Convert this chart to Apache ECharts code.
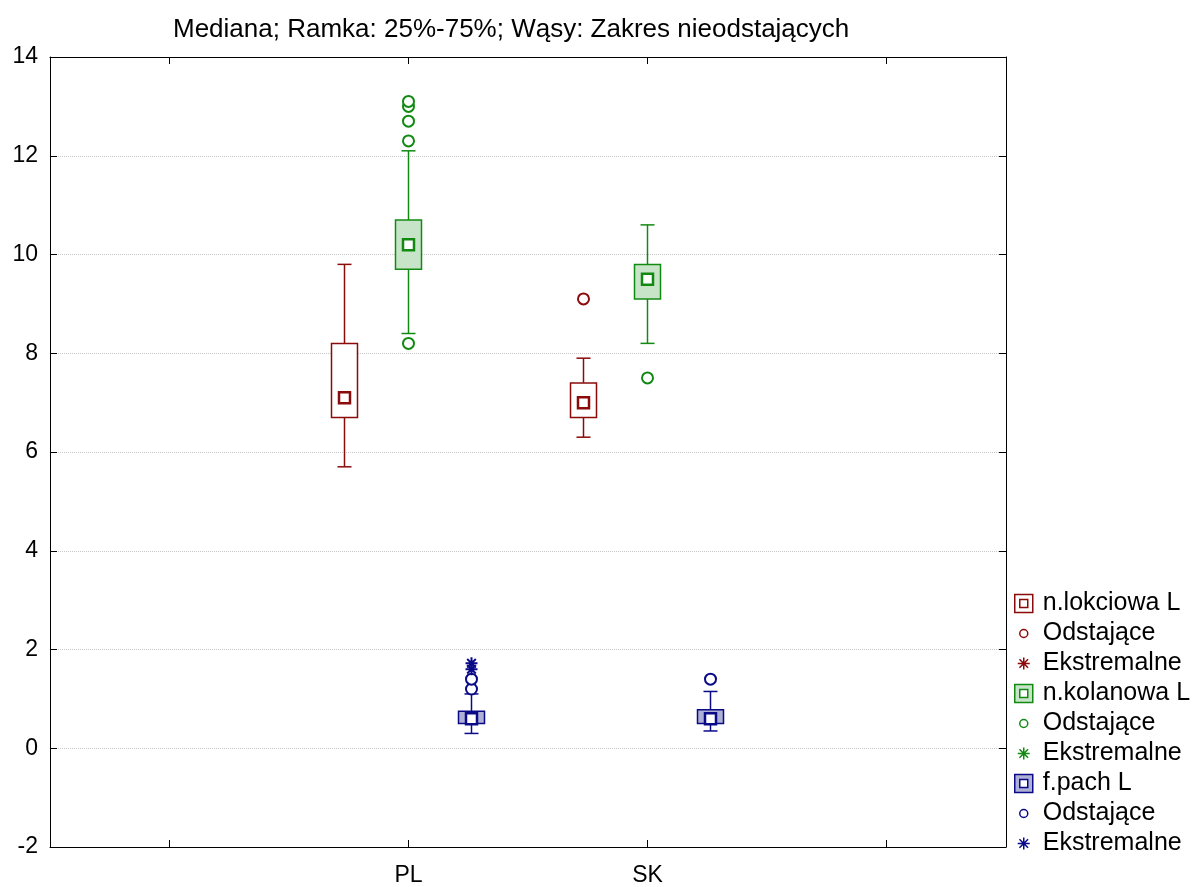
<!DOCTYPE html>
<html>
<head>
<meta charset="utf-8">
<script src="https://cdn.jsdelivr.net/npm/echarts@6/dist/echarts.min.js"></script>
<style>
html, body { margin: 0; background: #fff; }
#chart { width: 1195px; height: 887px; }
</style>
</head>
<body>
<div id="chart"></div>
<script>
// kategorie osi X (puste na brzegach, jak w oryginale)
var categories = ['', 'PL', 'SK', ''];
// [min, q1, mediana, q3, max] dla PL i SK
var lokciowa = [[5.7, 6.7, 7.1, 8.2, 9.8], [6.3, 6.7, 7.0, 7.4, 7.9]];
var kolanowa = [[8.4, 9.7, 10.2, 10.7, 12.1], [8.2, 9.1, 9.5, 9.8, 10.6]];
var pach = [[0.3, 0.5, 0.6, 0.75, 1.1], [0.35, 0.5, 0.6, 0.78, 1.15]];
// odstające / ekstremalne
var lokciowaOut = [[], [9.1]];
var lokciowaExt = [[], []];
var kolanowaOut = [[8.2, 12.3, 12.7, 13.0, 13.1], [7.5]];
var kolanowaExt = [[], []];
var pachOut = [[1.2, 1.4], [1.4]];
var pachExt = [[1.6, 1.72], []];

var RED = '#8b0a0a', GREEN = '#128a12', BLUE = '#0a0a88';
var FONT = '"Liberation Sans", Arial, sans-serif';

var boxIcon = 'path://M-14,-10M14,10M-9,-9L9,-9L9,9L-9,9ZM-4,-4L-4,4L4,4L4,-4Z';
var circleIcon = 'path://M-14,-10M14,10M-4,0A4,4,0,1,1,4,0A4,4,0,1,1,-4,0Z';
var starIcon = 'path://M-14,-10M14,10M0,-6L0,6M-6,0L6,0M-4.3,-4.3L4.3,4.3M-4.3,4.3L4.3,-4.3';
var starSymbol = 'path://M0,-6L0,6M-6,0L6,0M-4.3,-4.3L4.3,4.3M-4.3,4.3L4.3,-4.3';

function boxData(stats) {
    return stats.map(function (s, i) {
        return [i + 1].concat(s);
    });
}

function pointData(list) {
    var out = [];
    list.forEach(function (vals, i) {
        vals.forEach(function (v) { out.push([i + 1, v]); });
    });
    return out;
}

function boxRenderer(color, fill, shift) {
    return function (params, api) {
        var c = api.value(0);
        var x = api.coord([c, 0])[0] + shift;
        var yMin = api.coord([c, api.value(1)])[1];
        var yQ1 = api.coord([c, api.value(2)])[1];
        var yMed = api.coord([c, api.value(3)])[1];
        var yQ3 = api.coord([c, api.value(4)])[1];
        var yMax = api.coord([c, api.value(5)])[1];
        var half = 13, cap = 7, m = 5.5;
        var ln = { stroke: color, lineWidth: 1.5 };
        return {
            type: 'group',
            children: [
                { type: 'line', shape: { x1: x, y1: yMax, x2: x, y2: yQ3 }, style: ln },
                { type: 'line', shape: { x1: x, y1: yQ1, x2: x, y2: yMin }, style: ln },
                { type: 'line', shape: { x1: x - cap, y1: yMax, x2: x + cap, y2: yMax }, style: ln },
                { type: 'line', shape: { x1: x - cap, y1: yMin, x2: x + cap, y2: yMin }, style: ln },
                { type: 'rect', shape: { x: x - half, y: yQ3, width: 2 * half, height: yQ1 - yQ3 },
                  style: { fill: fill, stroke: color, lineWidth: 1.5 } },
                { type: 'rect', shape: { x: x - m, y: yMed - m, width: 2 * m, height: 2 * m },
                  style: { fill: '#fff', stroke: color, lineWidth: 2.5 } }
            ]
        };
    };
}

function boxSeries(name, stats, color, fill, shift) {
    return {
        name: name,
        type: 'custom',
        renderItem: boxRenderer(color, fill, shift),
        encode: { x: 0, y: [1, 2, 3, 4, 5] },
        data: boxData(stats),
        z: 2
    };
}

function outSeries(name, list, color, shift) {
    return {
        name: name,
        type: 'scatter',
        symbol: 'circle',
        symbolSize: 11,
        symbolOffset: [shift, 0],
        itemStyle: { color: '#fff', borderColor: color, borderWidth: 2, opacity: 1 },
        data: pointData(list),
        z: 3
    };
}

function extSeries(name, list, color, shift) {
    return {
        name: name,
        type: 'scatter',
        symbol: starSymbol,
        symbolSize: 12,
        symbolOffset: [shift, 0],
        itemStyle: { color: color, borderColor: color, borderWidth: 2, opacity: 1 },
        data: pointData(list),
        z: 4
    };
}

function legendItem(name, icon, fill, color) {
    return { name: name, icon: icon, itemStyle: { color: fill, borderColor: color, borderWidth: 1.5, opacity: 1 } };
}

var axisLineStyle = { show: true, onZero: false, lineStyle: { color: '#000', width: 1 } };

var chart = echarts.init(document.getElementById('chart'));
chart.setOption({
    animation: false,
    backgroundColor: '#fff',
    title: {
        text: 'Mediana; Ramka: 25%-75%; Wąsy: Zakres nieodstających',
        left: 168,
        top: 12,
        textStyle: { fontFamily: FONT, fontSize: 26, fontWeight: 'normal', color: '#000' }
    },
    legend: {
        orient: 'vertical',
        left: 1009,
        top: 591,
        padding: 0,
        itemWidth: 28,
        itemHeight: 20,
        itemGap: 5,
        selectedMode: false,
        formatter: function (n) { return n.split('#')[0]; },
        textStyle: { fontFamily: FONT, fontSize: 25, color: '#000', lineHeight: 24 },
        data: [
            legendItem('n.lokciowa L', boxIcon, '#fff', RED),
            legendItem('Odstające#1', circleIcon, '#fff', RED),
            legendItem('Ekstremalne#1', starIcon, RED, RED),
            legendItem('n.kolanowa L', boxIcon, '#c8e4c8', GREEN),
            legendItem('Odstające#2', circleIcon, '#fff', GREEN),
            legendItem('Ekstremalne#2', starIcon, GREEN, GREEN),
            legendItem('f.pach L', boxIcon, '#aeb0d6', BLUE),
            legendItem('Odstające#3', circleIcon, '#fff', BLUE),
            legendItem('Ekstremalne#3', starIcon, BLUE, BLUE)
        ]
    },
    grid: { left: 50, right: 189, top: 57, bottom: 39, containLabel: false },
    xAxis: [{
        type: 'category',
        data: categories,
        position: 'bottom',
        axisLine: axisLineStyle,
        axisTick: { show: true, inside: true, length: 7, alignWithLabel: true, interval: 0, lineStyle: { color: '#000' } },
        axisLabel: { interval: 0, fontFamily: FONT, fontSize: 23, color: '#000', margin: 17 },
        splitLine: { show: false }
    }, {
        type: 'category',
        data: categories,
        position: 'top',
        axisLine: axisLineStyle,
        axisTick: { show: true, inside: true, length: 7, alignWithLabel: true, interval: 0, lineStyle: { color: '#000' } },
        axisLabel: { show: false },
        splitLine: { show: false }
    }],
    yAxis: [{
        type: 'value',
        min: -2, max: 14, interval: 2,
        position: 'left',
        axisLine: axisLineStyle,
        axisTick: { show: true, inside: true, length: 7, lineStyle: { color: '#000' } },
        axisLabel: { fontFamily: FONT, fontSize: 23, color: '#000', margin: 12 },
        splitLine: { show: true, lineStyle: { color: '#c8c8c8', type: 'dotted', width: 1 } }
    }, {
        type: 'value',
        min: -2, max: 14, interval: 2,
        position: 'right',
        axisLine: axisLineStyle,
        axisTick: { show: true, inside: true, length: 7, lineStyle: { color: '#000' } },
        axisLabel: { show: false },
        splitLine: { show: false }
    }],
    series: [
        boxSeries('n.lokciowa L', lokciowa, RED, '#fff', -64),
        outSeries('Odstające#1', lokciowaOut, RED, -64),
        extSeries('Ekstremalne#1', lokciowaExt, RED, -64),
        boxSeries('n.kolanowa L', kolanowa, GREEN, '#c8e4c8', 0),
        outSeries('Odstające#2', kolanowaOut, GREEN, 0),
        extSeries('Ekstremalne#2', kolanowaExt, GREEN, 0),
        boxSeries('f.pach L', pach, BLUE, '#aeb0d6', 63),
        outSeries('Odstające#3', pachOut, BLUE, 63),
        extSeries('Ekstremalne#3', pachExt, BLUE, 63)
    ]
});
</script>
</body>
</html>
